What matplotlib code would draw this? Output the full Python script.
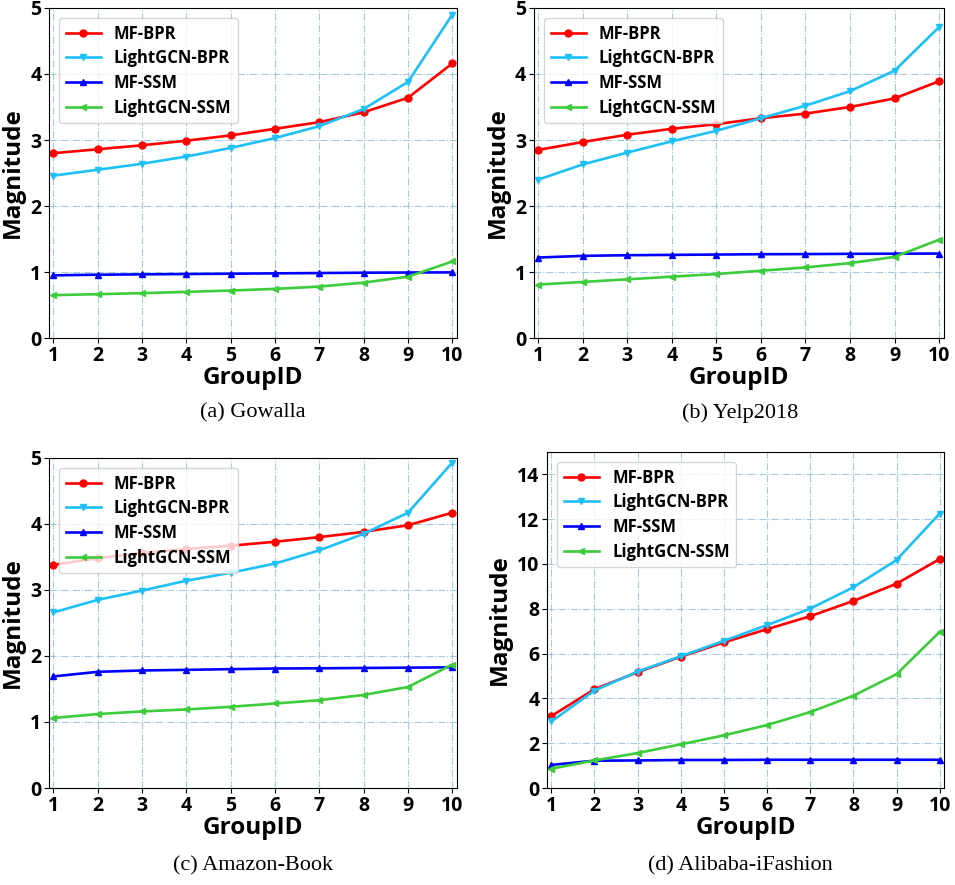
import matplotlib.pyplot as plt

groups = [1, 2, 3, 4, 5, 6, 7, 8, 9, 10]
labels = ["MF-BPR", "LightGCN-BPR", "MF-SSM", "LightGCN-SSM"]

# Gowalla
gow_mf_bpr = [2.80, 2.86, 2.92, 2.99, 3.07, 3.17, 3.27, 3.42, 3.64, 4.16]
gow_lg_bpr = [2.46, 2.55, 2.64, 2.75, 2.88, 3.03, 3.21, 3.47, 3.88, 4.90]
gow_mf_ssm = [0.95, 0.96, 0.965, 0.97, 0.975, 0.98, 0.985, 0.99, 0.993, 0.995]
gow_lg_ssm = [0.65, 0.665, 0.68, 0.70, 0.72, 0.745, 0.78, 0.84, 0.93, 1.16]

# Yelp2018
yelp_mf_bpr = [2.85, 2.97, 3.08, 3.17, 3.24, 3.33, 3.40, 3.50, 3.63, 3.89]
yelp_lg_bpr = [2.40, 2.63, 2.81, 2.98, 3.14, 3.33, 3.52, 3.74, 4.05, 4.71]
yelp_mf_ssm = [1.22, 1.245, 1.255, 1.26, 1.265, 1.27, 1.272, 1.276, 1.278, 1.28]
yelp_lg_ssm = [0.81, 0.85, 0.89, 0.93, 0.97, 1.02, 1.07, 1.135, 1.23, 1.49]

# Amazon-Book
amz_mf_bpr = [3.38, 3.48, 3.56, 3.62, 3.67, 3.73, 3.80, 3.88, 3.98, 4.17]
amz_lg_bpr = [2.66, 2.85, 2.99, 3.14, 3.26, 3.40, 3.60, 3.85, 4.17, 4.93]
amz_mf_ssm = [1.69, 1.76, 1.78, 1.79, 1.80, 1.81, 1.813, 1.818, 1.823, 1.828]
amz_lg_ssm = [1.06, 1.12, 1.16, 1.19, 1.23, 1.28, 1.33, 1.41, 1.53, 1.87]

# Alibaba-iFashion
ali_mf_bpr = [3.21, 4.41, 5.17, 5.86, 6.50, 7.09, 7.67, 8.35, 9.12, 10.22]
ali_lg_bpr = [2.97, 4.35, 5.20, 5.88, 6.57, 7.27, 8.01, 8.96, 10.18, 12.25]
ali_mf_ssm = [1.03, 1.22, 1.23, 1.25, 1.25, 1.26, 1.26, 1.26, 1.26, 1.26]
ali_lg_ssm = [0.86, 1.23, 1.56, 1.95, 2.35, 2.81, 3.39, 4.12, 5.08, 6.97]

colors = ["#ff0000", "#1ec0f8", "#0000ff", "#3ccc3c"]
markers = ["o", "v", "^", "<"]

panels = [
    ([0.0513, 0.618, 0.427, 0.373], [gow_mf_bpr, gow_lg_bpr, gow_mf_ssm, gow_lg_ssm], 5, [0, 1, 2, 3, 4, 5], "(a) Gowalla", (0.265, 0.5335)),
    ([0.559, 0.618, 0.429, 0.373], [yelp_mf_bpr, yelp_lg_bpr, yelp_mf_ssm, yelp_lg_ssm], 5, [0, 1, 2, 3, 4, 5], "(b) Yelp2018", (0.775, 0.5335)),
    ([0.0513, 0.1096, 0.427, 0.373], [amz_mf_bpr, amz_lg_bpr, amz_mf_ssm, amz_lg_ssm], 5, [0, 1, 2, 3, 4, 5], "(c) Amazon-Book", (0.265, 0.0215)),
    ([0.5728, 0.1096, 0.4157, 0.3797], [ali_mf_bpr, ali_lg_bpr, ali_mf_ssm, ali_lg_ssm], 15, [0, 2, 4, 6, 8, 10, 12, 14], "(d) Alibaba-iFashion", (0.775, 0.0215)),
]

fig = plt.figure(figsize=(9.55, 8.85), dpi=100)

for rect, series, ytop, yticks, caption, cpos in panels:
    ax = fig.add_axes(rect)
    for vals, c, m, lab in zip(series, colors, markers, labels):
        ax.plot(groups, vals, color=c, marker=m, markersize=5, linewidth=1.9, label=lab)
    ax.set_xlim(0.9, 10.1)
    ax.set_ylim(0, ytop)
    ax.set_xticks(groups)
    ax.set_yticks(yticks)
    ax.grid(True, linestyle="-.", color="#8fbcd8", linewidth=0.8, alpha=0.8)
    ax.set_axisbelow(True)
    for lbl in ax.get_xticklabels() + ax.get_yticklabels():
        lbl.set_fontfamily("Open Sans")
        lbl.set_fontweight("bold")
        lbl.set_fontsize(14)
    ax.tick_params(pad=2)
    ax.set_xlabel("GroupID", fontsize=17.5, fontweight="bold", family="Open Sans", labelpad=0)
    ax.set_ylabel("Magnitude", fontsize=17.5, fontweight="bold", family="Open Sans", labelpad=4)
    ax.legend(loc="upper left", prop={"family": "Open Sans", "weight": "bold", "size": 12},
              handlelength=2.1, labelspacing=0.4, handletextpad=0.8, borderaxespad=0.6)
    fig.text(cpos[0], cpos[1], caption, ha="center", va="center", fontsize=16, family="Liberation Serif")

plt.savefig("out.png", dpi=100)
